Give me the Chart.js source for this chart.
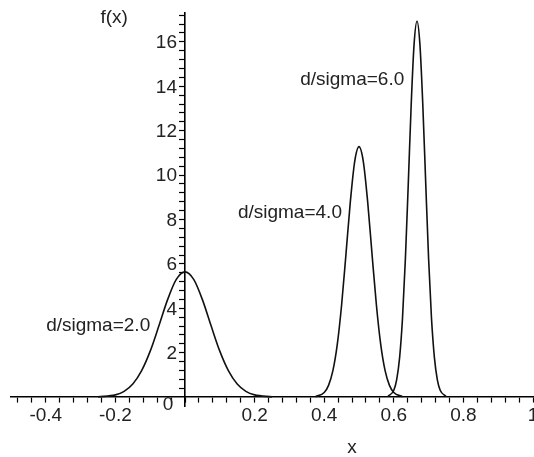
<!DOCTYPE html>
<html>
<head>
<meta charset="utf-8">
<script src="https://cdn.jsdelivr.net/npm/chart.js@4"></script>
<style>
  html, body { margin: 0; padding: 0; background: #fff; }
  #wrap { width: 534px; height: 457px; }
</style>
</head>
<body>
<div id="wrap"><canvas id="chart"></canvas></div>
<script>
// d/sigma = 2.0, peak at x = 0
const curve1X = [-0.25, -0.2, -0.175, -0.15, -0.125, -0.1, -0.075, -0.05, -0.025, 0, 0.025, 0.05, 0.075, 0.1, 0.125, 0.15, 0.175, 0.2, 0.25];
const curve1Y = [0.01, 0.10, 0.26, 0.59, 1.18, 2.07, 3.21, 4.39, 5.30, 5.64, 5.30, 4.39, 3.21, 2.07, 1.18, 0.59, 0.26, 0.10, 0.01];
// d/sigma = 4.0, peak at x = 0.5
const curve2X = [0.375, 0.4, 0.4125, 0.425, 0.4375, 0.45, 0.4625, 0.475, 0.4875, 0.5, 0.5125, 0.525, 0.5375, 0.55, 0.5625, 0.575, 0.5875, 0.6, 0.625];
const curve2Y = [0.02, 0.21, 0.53, 1.19, 2.36, 4.15, 6.43, 8.78, 10.60, 11.28, 10.60, 8.78, 6.43, 4.15, 2.36, 1.19, 0.53, 0.21, 0.02];
// d/sigma = 6.0, peak at x = 0.667
const curve3X = [0.5833, 0.6, 0.6083, 0.6167, 0.625, 0.6333, 0.6417, 0.65, 0.6583, 0.6667, 0.675, 0.6833, 0.6917, 0.7, 0.7083, 0.7167, 0.725, 0.7333, 0.75];
const curve3Y = [0.03, 0.31, 0.79, 1.78, 3.55, 6.23, 9.65, 13.18, 15.90, 16.93, 15.90, 13.18, 9.65, 6.23, 3.55, 1.78, 0.79, 0.31, 0.03];

const curveLabels = ['d/sigma=2.0', 'd/sigma=4.0', 'd/sigma=6.0'];
const xTickLabels = [-0.4, -0.2, 0.2, 0.4, 0.6, 0.8, 1];
const yTickLabels = [2, 4, 6, 8, 10, 12, 14, 16];

const FONT = 'Liberation Sans, Arial, sans-serif';
const TEXT = '#222';

function points(xs, ys) {
  return xs.map((x, i) => ({ x: x, y: ys[i] }));
}

function isLabel(list, v) {
  return list.some(t => Math.abs(t - v) < 1e-6);
}

// texts that sit on the plot: y tick labels, curve names, axis names, the origin 0
const textPlugin = {
  id: 'plotTexts',
  afterDraw(chart) {
    const { ctx, scales: { x, y } } = chart;
    ctx.save();
    ctx.fillStyle = TEXT;
    ctx.font = '19px ' + FONT;
    ctx.textBaseline = 'middle';

    ctx.textAlign = 'right';
    const axisX = x.getPixelForValue(0);
    yTickLabels.forEach(v => ctx.fillText(String(v), axisX - 8, y.getPixelForValue(v) + 1));

    ctx.fillText(curveLabels[0], x.getPixelForValue(-0.1), y.getPixelForValue(3.2));
    ctx.fillText(curveLabels[1], x.getPixelForValue(0.451), y.getPixelForValue(8.3));
    ctx.fillText(curveLabels[2], x.getPixelForValue(0.63), y.getPixelForValue(14.3));
    ctx.fillText('f(x)', x.getPixelForValue(-0.164), y.getPixelForValue(17.1));

    ctx.textAlign = 'center';
    ctx.fillText('0', x.getPixelForValue(-0.049), y.getPixelForValue(-0.36));
    ctx.fillText('x', x.getPixelForValue(0.48), y.getPixelForValue(-2.26));
    ctx.restore();
  }
};

const lineStyle = {
  borderColor: '#111',
  borderWidth: 1.6,
  pointRadius: 0,
  fill: false,
  cubicInterpolationMode: 'monotone',
  clip: false
};

new Chart(document.getElementById('chart'), {
  type: 'line',
  data: {
    datasets: [
      { label: curveLabels[0], data: points(curve1X, curve1Y), ...lineStyle },
      { label: curveLabels[1], data: points(curve2X, curve2Y), ...lineStyle },
      { label: curveLabels[2], data: points(curve3X, curve3Y), ...lineStyle }
    ]
  },
  options: {
    responsive: true,
    maintainAspectRatio: false,
    animation: false,
    layout: { padding: { left: 11, right: 1, top: 13, bottom: 51 } },
    plugins: {
      legend: { display: false },
      tooltip: { enabled: false }
    },
    scales: {
      x: {
        type: 'linear',
        min: -0.5,
        max: 1.0,
        position: { y: 0 },
        afterFit: s => { s.height = 0; s.paddingLeft = 0; s.paddingRight = 0; },
        afterBuildTicks: s => {
          const t = [];
          for (let i = -12; i <= 25; i++) t.push({ value: Math.round(i * 4) / 100 });
          s.ticks = t;
        },
        grid: { display: true, drawOnChartArea: false, drawTicks: true, tickLength: 5, tickColor: '#000', tickWidth: 1.2 },
        border: { display: true, color: '#000', width: 1.6 },
        ticks: {
          autoSkip: false,
          maxRotation: 0,
          padding: 2,
          color: TEXT,
          font: { family: FONT, size: 19 },
          callback: v => isLabel(xTickLabels, v) ? String(v) : ''
        }
      },
      y: {
        type: 'linear',
        min: -0.4,
        max: 17.3,
        position: { x: 0 },
        afterFit: s => { s.width = 0; s.paddingTop = 0; s.paddingBottom = 0; },
        afterBuildTicks: s => {
          const t = [];
          for (let i = 1; i <= 43; i++) t.push({ value: Math.round(i * 4) / 10 });
          s.ticks = t;
        },
        grid: { display: true, drawOnChartArea: false, drawTicks: true, tickLength: 5, tickColor: '#000', tickWidth: 1.2 },
        border: { display: true, color: '#000', width: 1.6 },
        ticks: { display: false }
      }
    }
  },
  plugins: [textPlugin]
});
</script>
</body>
</html>
